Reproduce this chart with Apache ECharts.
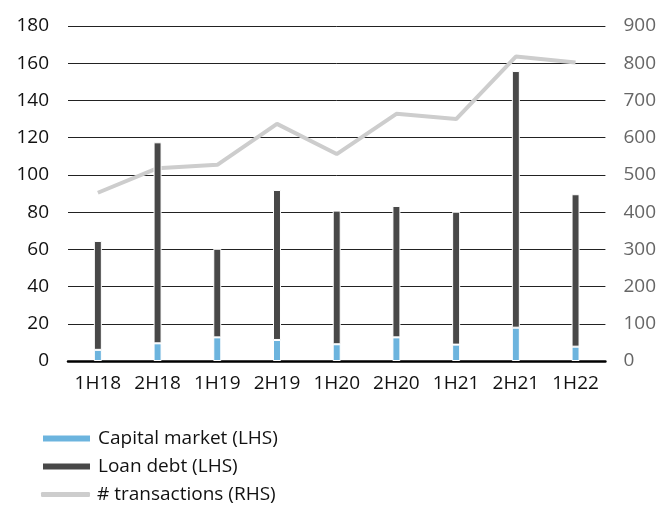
<!DOCTYPE html>
<html>
<head>
<meta charset="utf-8">
<script src="https://cdn.jsdelivr.net/npm/echarts@6/dist/echarts.min.js"></script>
<style>html,body{margin:0;padding:0;background:#fff;}#c{width:659px;height:505px;}</style>
</head>
<body>
<div id="c"></div>
<script>
const categories = ['1H18','2H18','1H19','2H19','1H20','2H20','1H21','2H21','1H22'];
const capitalMarket = [6, 9.5, 12.7, 11.3, 9, 12.7, 8.8, 17.9, 7.7];
const loanDebt = [58.5, 108, 47.6, 80.6, 71.8, 70.6, 71.4, 137.9, 81.9];
const transactions = [452, 518, 527, 637, 556, 664, 650, 818, 802];
const leftTicks = [0, 180, 20];
const rightTicks = [0, 900, 100];

const FONT = '"Open Sans", "Noto Sans", sans-serif';
const FS = 19;
const chart = echarts.init(document.getElementById('c'), null, {renderer: 'canvas'});
chart.setOption({
  animation: false,
  backgroundColor: '#fff',
  textStyle: {fontFamily: FONT},
  grid: {left: 68, right: 51, top: 26, bottom: 144, containLabel: false},
  legend: [
    {
      orient: 'vertical', left: 41, top: 429, padding: 0, itemWidth: 49, itemHeight: 8, itemGap: 9,
      icon: 'rect',
      textStyle: {fontFamily: FONT, fontSize: FS, color: '#111', padding: [0,0,0,2]},
      data: ['Capital market (LHS)', 'Loan debt (LHS)']
    },
    {
      orient: 'vertical', left: 41, top: 485, padding: 0, itemWidth: 49, itemHeight: 5, itemGap: 9,
      icon: 'roundRect',
      textStyle: {fontFamily: FONT, fontSize: FS, color: '#111', padding: [0,0,0,2]},
      data: ['# transactions (RHS)']
    }
  ],
  xAxis: {
    type: 'category', data: categories,
    axisLine: {show: true, lineStyle: {color: '#000', width: 2.5}},
    axisTick: {show: false},
    axisLabel: {fontFamily: FONT, fontSize: FS, color: '#111', margin: 13, interval: 0, hideOverlap: false}
  },
  yAxis: [
    {
      type: 'value', min: leftTicks[0], max: leftTicks[1], interval: leftTicks[2],
      axisLine: {show: false}, axisTick: {show: false},
      axisLabel: {fontFamily: FONT, fontSize: FS, color: '#111', margin: 19},
      splitLine: {show: true, lineStyle: {color: '#222', width: 1}}
    },
    {
      type: 'value', min: rightTicks[0], max: rightTicks[1], interval: rightTicks[2],
      position: 'right',
      axisLine: {show: false}, axisTick: {show: false},
      axisLabel: {fontFamily: FONT, fontSize: FS, color: '#666', margin: 18},
      splitLine: {show: false}
    }
  ],
  series: [
    {
      name: '# transactions (RHS)', type: 'line', yAxisIndex: 1, data: transactions,
      symbol: 'none', z: 1,
      lineStyle: {color: '#cdcdcd', width: 4},
      itemStyle: {color: '#cdcdcd'}
    },
    {
      name: 'Capital market (LHS)', type: 'bar', stack: 'a', data: capitalMarket,
      barWidth: 8, z: 3,
      itemStyle: {color: '#6cb4de', borderColor: '#fff', borderWidth: 1}
    },
    {
      name: 'Loan debt (LHS)', type: 'bar', stack: 'a', data: loanDebt,
      barWidth: 8, z: 3,
      itemStyle: {color: '#484848', borderColor: '#fff', borderWidth: 1}
    }
  ]
});
</script>
</body>
</html>
